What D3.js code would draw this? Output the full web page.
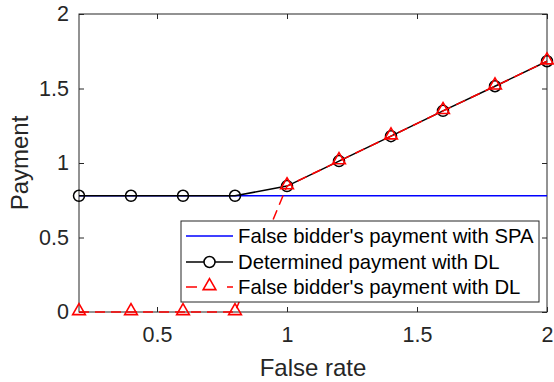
<!DOCTYPE html>
<html>
<head>
<meta charset="utf-8">
<script src="https://cdn.jsdelivr.net/npm/d3@7"></script>
<style>
  body { margin: 0; background: #fff; }
  svg { font-family: "Liberation Sans", Arial, sans-serif; }
</style>
</head>
<body>
<svg width="554" height="382"></svg>
<script>
// chart data
var falseRate = [0.2, 0.4, 0.6, 0.8, 1.0, 1.2, 1.4, 1.6, 1.8, 2.0];
var spaPayment = [0.78, 0.78, 0.78, 0.78, 0.78, 0.78, 0.78, 0.78, 0.78, 0.78];
var determinedDL = [0.78, 0.78, 0.78, 0.78, 0.845, 1.013, 1.18, 1.35, 1.515, 1.683];
var falseBidderDL = [0, 0, 0, 0, 0.845, 1.013, 1.18, 1.35, 1.515, 1.683];
var xTicks = [0.5, 1, 1.5, 2];
var yTicks = [0, 0.5, 1, 1.5, 2];
var legendLabels = ["False bidder's payment with SPA", "Determined payment with DL", "False bidder's payment with DL"];

var svg = d3.select("svg"),
    margin = {left: 79, top: 14, right: 7, bottom: 70},
    width = +svg.attr("width") - margin.left - margin.right,
    height = +svg.attr("height") - margin.top - margin.bottom,
    g = svg.append("g").attr("transform", "translate(" + margin.left + "," + margin.top + ")");

var axisColor = "#262626";

var x = d3.scaleLinear().domain([0.2, 2]).range([0, width]);
var y = d3.scaleLinear().domain([0, 2]).range([height, 0]);

// axes with inward ticks
g.append("g").attr("transform", "translate(0," + height + ")")
    .call(d3.axisBottom(x).tickValues(xTicks).tickSizeInner(-5).tickSizeOuter(0).tickPadding(15).tickFormat(d3.format("")));
g.append("g")
    .call(d3.axisLeft(y).tickValues(yTicks).tickSizeInner(-5).tickSizeOuter(0).tickPadding(10).tickFormat(d3.format("")));
// top / right ticks mirror
g.append("g").call(d3.axisTop(x).tickValues(xTicks).tickSizeInner(-5).tickSizeOuter(0).tickFormat(""));
g.append("g").attr("transform", "translate(" + width + ",0)")
    .call(d3.axisRight(y).tickValues(yTicks).tickSizeInner(-5).tickSizeOuter(0).tickFormat(""));

g.selectAll(".domain").remove();
g.selectAll(".tick line").attr("stroke", axisColor);
g.selectAll(".tick text").attr("fill", axisColor).style("font-size", "21.5px");

// axes box
g.append("rect").attr("width", width).attr("height", height)
    .attr("fill", "none").attr("stroke", axisColor).attr("stroke-width", 1);

// lines
var line = d3.line().x(function(d) { return x(d[0]); }).y(function(d) { return y(d[1]); });
function pairs(vals) { return falseRate.map(function(v, i) { return [v, vals[i]]; }); }

g.append("path").datum(pairs(spaPayment)).attr("d", line)
    .attr("fill", "none").attr("stroke", "#0000ff").attr("stroke-width", 1.4);

g.append("path").datum(pairs(determinedDL)).attr("d", line)
    .attr("fill", "none").attr("stroke", "#000").attr("stroke-width", 1.5);
g.selectAll(".circ").data(pairs(determinedDL)).enter().append("circle")
    .attr("cx", function(d) { return x(d[0]); }).attr("cy", function(d) { return y(d[1]); })
    .attr("r", 5.5).attr("fill", "none").attr("stroke", "#000").attr("stroke-width", 1.5);

g.append("path").datum(pairs(falseBidderDL)).attr("d", line)
    .attr("fill", "none").attr("stroke", "#ff0000").attr("stroke-width", 1.5).attr("stroke-dasharray", "10,6");
var tri = d3.symbol().type(d3.symbolTriangle).size(70);
g.selectAll(".tri").data(pairs(falseBidderDL)).enter().append("path")
    .attr("d", tri)
    .attr("transform", function(d) { return "translate(" + x(d[0]) + "," + (y(d[1]) - 1) + ")"; })
    .attr("fill", "none").attr("stroke", "#ff0000").attr("stroke-width", 1.6);

// axis labels
svg.append("text").attr("x", margin.left + width / 2).attr("y", 375.5)
    .attr("text-anchor", "middle").attr("fill", axisColor).style("font-size", "24px").text("False rate");
svg.append("text").attr("transform", "translate(28," + (margin.top + height / 2) + ") rotate(-90)")
    .attr("text-anchor", "middle").attr("fill", axisColor).style("font-size", "24px").text("Payment");

// legend
var lg = svg.append("g").attr("transform", "translate(181,221)");
lg.append("rect").attr("width", 358).attr("height", 81)
    .attr("fill", "#fff").attr("stroke", axisColor).attr("stroke-width", 1);
var rowY = [15, 41, 66];
var items = lg.selectAll(".item").data(legendLabels).enter().append("g")
    .attr("transform", function(d, i) { return "translate(0," + rowY[i] + ")"; });
items.append("text").attr("x", 57).attr("dy", "0.36em").attr("fill", "#000")
    .style("font-size", "20.3px").text(function(d) { return d; });

lg.append("line").attr("x1", 5).attr("x2", 52).attr("y1", rowY[0]).attr("y2", rowY[0])
    .attr("stroke", "#0000ff").attr("stroke-width", 1.4);
lg.append("line").attr("x1", 5).attr("x2", 52).attr("y1", rowY[1]).attr("y2", rowY[1])
    .attr("stroke", "#000").attr("stroke-width", 1.5);
lg.append("circle").attr("cx", 28.5).attr("cy", rowY[1]).attr("r", 5.5)
    .attr("fill", "#fff").attr("stroke", "#000").attr("stroke-width", 1.5);
lg.append("line").attr("x1", 5).attr("x2", 52).attr("y1", rowY[2]).attr("y2", rowY[2])
    .attr("stroke", "#ff0000").attr("stroke-width", 1.5).attr("stroke-dasharray", "11,30,11");
lg.append("path").attr("d", tri).attr("transform", "translate(28.5," + (rowY[2] - 1) + ")")
    .attr("fill", "#fff").attr("stroke", "#ff0000").attr("stroke-width", 1.6);
</script>
</body>
</html>
